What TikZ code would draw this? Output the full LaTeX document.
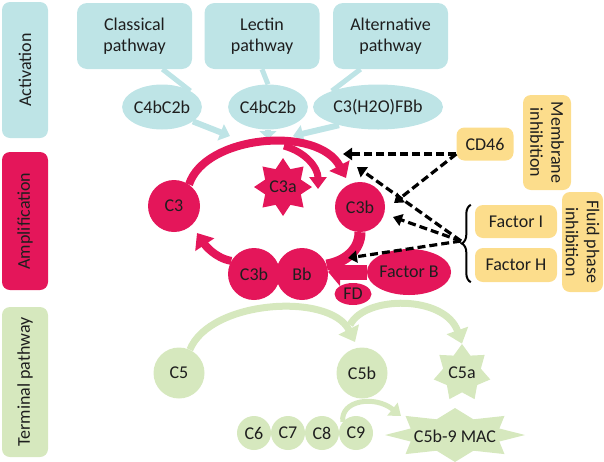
\documentclass[tikz,border=0pt]{standalone}
\usepackage{fontspec}
\setmainfont{Carlito}
\usepackage{tikz}
\usetikzlibrary{positioning, shapes.geometric, arrows.meta, decorations.pathreplacing}

\definecolor{actcol}{RGB}{190,228,230}
\definecolor{ampcol}{RGB}{228,22,90}
\definecolor{termcol}{RGB}{214,232,190}
\definecolor{inhcol}{RGB}{252,221,140}
\definecolor{txtcol}{RGB}{30,30,30}

\begin{document}
\begin{tikzpicture}[x=1pt, y=-1pt, node distance=34pt, on grid,
  font=\fontsize{18}{21}\selectfont, text=txtcol,
  stage/.style={fill=#1, rounded corners=8pt, rotate=90, minimum height=46pt, inner sep=0pt},
  pathbox/.style={fill=actcol, rounded corners=10pt, minimum width=115pt, minimum height=66pt, align=center, inner sep=0pt},
  actell/.style={ellipse, fill=actcol, minimum height=45pt, inner sep=0pt},
  comp/.style={circle, fill=ampcol, minimum size=52pt, inner sep=0pt},
  tcomp/.style={circle, fill=termcol, minimum size=#1, inner sep=0pt}, tcomp/.default=51pt,
  inhbox/.style={fill=inhcol, rounded corners=8pt, inner sep=0pt},
  callout/.style={actcol, line width=5pt},
  actarrow/.style={actcol, line width=6pt, -{Triangle[width=17pt,length=10pt]}},
  amparrow/.style={ampcol, line width=#1, -{Triangle[width=22pt,length=14pt]}},
  termarrow/.style={termcol, line width=#1, -{Triangle[width=22pt,length=14pt]}},
  inharrow/.style={line width=3.2pt, dash pattern=on 8pt off 4pt, -{Triangle[width=12pt,length=9pt]}}
]
  \useasboundingbox (0,0) rectangle (604,461);

  % Stages on the left
  \node[stage=actcol, minimum width=136pt] (activation) at (25,70) {Activation};
  \node[stage=ampcol, minimum width=138pt] (amplification) at (25,221) {Amplification};
  \node[stage=termcol, minimum width=150pt] (terminal) at (25,382) {Terminal pathway};

  % Activation
  \node[pathbox] (classical) at (134.5,36) {Classical\\pathway};
  \node[pathbox] (lectin) at (262,36) {Lectin\\pathway};
  \node[pathbox] (alternative) at (390.5,36) {Alternative\\pathway};
  \node[actell, minimum width=76pt] (cfour1) at (162,107) {C4bC2b};
  \node[actell, minimum width=72pt] (cfour2) at (268,107) {C4bC2b};
  \node[actell, minimum width=130pt] (cthree) at (378,107) {C3(H2O)FBb};

  \draw[callout] ([xshift=28pt]classical.south) -- (cfour1.north east);
  \draw[callout] (lectin.south) -- (cfour2.north);
  \draw[callout] ([xshift=-30pt]alternative.south) -- (cthree.north west);

  \coordinate (in1) at (230,136);
  \coordinate (in2) at (268,139);
  \coordinate (in3) at (293,136);
  \draw[actarrow] (cfour1.-25) -- (in1);
  \draw[actarrow, -{Triangle[width=17pt,length=8pt]}] (cfour2.south) -- (in2);
  \draw[actarrow] (cthree.205) -- (in3);

  % Amplification loop
  \node[comp] (c3) at (174,206) {C3};
  \node[comp, minimum size=50pt] (c3b) at (360,207) {C3b};
  \node[comp] (c3bb) at (254,274) {C3b};
  \node[comp, right=48pt of c3bb] (bb) {Bb};
  \node[ellipse, fill=ampcol, minimum width=82pt, minimum height=46pt, inner sep=0pt] (factorb) at (409,272) {Factor B};
  \node[ellipse, fill=ampcol, minimum width=37pt, minimum height=22pt, inner sep=0pt] (fd) at (353,294) {FD};
  \node[star, star points=8, fill=ampcol, minimum size=48pt, inner sep=0pt] (c3a) at (283,187) {C3a};

  \coordinate (c3bin) at (346,178);
  \coordinate (split3) at (284,146);
  \coordinate (c3aout) at (318,189);
  \coordinate (c3in) at (197,233);
  \draw[amparrow=8pt] (c3.55) .. controls (205,135) and (318,125) .. (c3bin);
  \draw[amparrow=7pt, -{Triangle[width=17pt,length=12pt]}] (split3) .. controls (306,152) and (318,168) .. (c3aout);
  \draw[ampcol, line width=11pt] (c3b.south) .. controls (360,250) and (345,262) .. (bb.20);
  \draw[amparrow=8pt] (c3bb.150) .. controls (215,258) and (205,245) .. (c3in);
  \draw[ampcol, line width=15pt, -{Triangle[width=28pt,length=12pt]}] (factorb.west) -- (bb.east |- factorb.west);

  % Inhibitors
  \node[inhbox, minimum width=57pt, minimum height=33pt] (cd46) at (485,144) {CD46};
  \node[inhbox, rotate=-90, minimum width=95pt, minimum height=48pt, align=center] (membrane) at (547,142.5) {Membrane\\inhibition};
  \node[inhbox, minimum width=82pt, minimum height=33pt] (factori) at (516,221.5) {Factor I};
  \node[inhbox, below=43.5pt of factori, minimum width=82pt, minimum height=34pt] (factorh) {Factor H};
  \node[inhbox, rotate=-90, minimum width=100pt, minimum height=41pt, align=center] (fluid) at (582.5,242) {Fluid phase\\inhibition};

  \draw[line width=2pt, decorate, decoration={brace, amplitude=9pt}]
    ([xshift=-4pt]factorh.south west) -- ([xshift=-4pt]factori.north west);

  \coordinate (bt) at (461,241);
  \coordinate (d1) at (343,154);
  \coordinate (d2) at (394,203);
  \coordinate (d3) at (357,167);
  \coordinate (d4) at (393,217);
  \coordinate (d5) at (348,258);
  \draw[inharrow] ([yshift=-10pt]cd46.west) -- (d1);
  \draw[inharrow] ([yshift=-10pt]cd46.west) -- (d2);
  \draw[inharrow] (bt) -- (d3);
  \draw[inharrow] (bt) -- (d4);
  \draw[inharrow] (bt) -- (d5);

  % Terminal pathway
  \node[tcomp] (c5) at (179,373) {C5};
  \node[tcomp] (c5b) at (362,373) {C5b};
  \node[star, star points=7, fill=termcol, minimum size=52pt, inner sep=0pt] (c5a) at (462,373) {C5a};
  \node[tcomp=34pt] (c6) at (254,433) {C6};
  \node[tcomp=34pt, right=of c6] (c7) {C7};
  \node[tcomp=34pt, right=of c7] (c8) {C8};
  \node[tcomp=34pt, right=of c8] (c9) {C9};

  \fill[termcol, shift={(455,435)}] (0:70 and 27)
    \foreach \a in {0,45,...,315} { -- (\a+22.5:48 and 17) -- (\a+45:70 and 27) } -- cycle;
  \node (mac) at (455,436) {C5b-9 MAC};

  \coordinate (c5bin) at (355,342);
  \coordinate (split5) at (350,325);
  \coordinate (macin) at (401,416);
  \draw[termarrow=7pt] (c5.65) .. controls (210,300) and (330,292) .. (c5bin);
  \draw[termarrow=7pt] (split5) .. controls (365,295) and (445,295) .. (c5a.north);
  \draw[termarrow=5pt, -{Triangle[width=16pt,length=11pt]}] (c9.140) .. controls (340,400) and (375,395) .. (macin);

\end{tikzpicture}
\end{document}
